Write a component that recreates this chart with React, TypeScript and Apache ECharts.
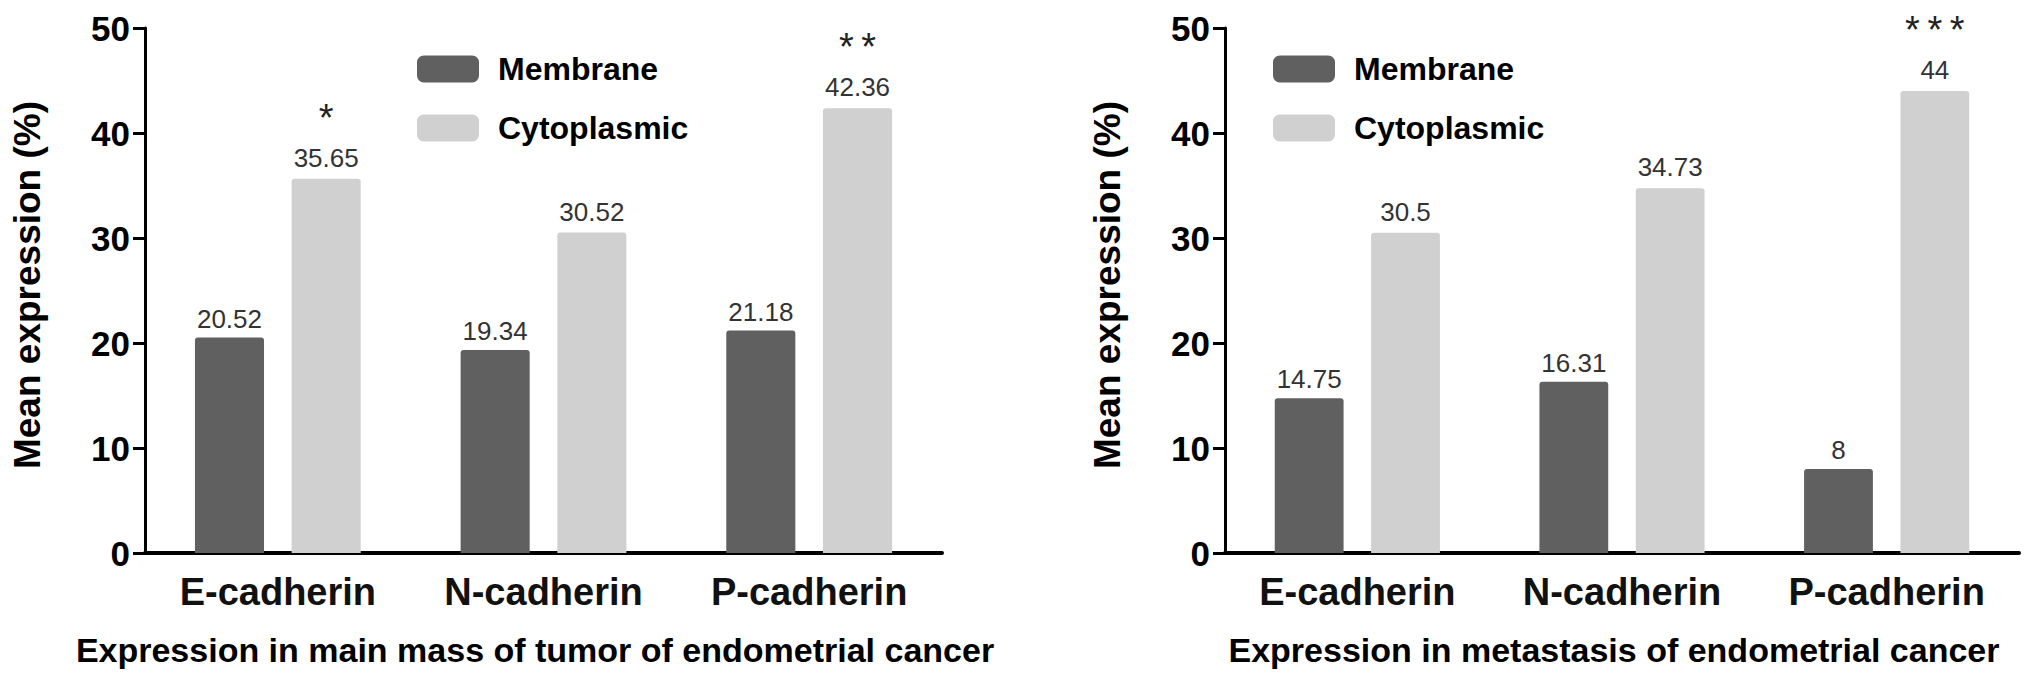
import { useEffect, useRef } from "react"
import * as echarts from "echarts"

const categories = ["E-cadherin", "N-cadherin", "P-cadherin"]
const seriesNames = ["Membrane", "Cytoplasmic"]

// main mass of tumor
const mainMembrane = [20.52, 19.34, 21.18]
const mainCytoplasmic = [35.65, 30.52, 42.36]
const mainStars = ["*", "", "**"]

// metastasis
const metaMembrane = [14.75, 16.31, 8]
const metaCytoplasmic = [30.5, 34.73, 44]
const metaStars = ["", "", "***"]

const yMin = 0
const yMax = 50
const yStep = 10

const titles = [
  "Expression in main mass of tumor of endometrial cancer",
  "Expression in metastasis of endometrial cancer",
]
const yTitle = "Mean expression (%)"

const FONT = "'Liberation Sans', Arial, Helvetica, sans-serif"
const DARK = "#606060"
const LIGHT = "#d0d0d0"

export default function App() {
  const chartRef = useRef<HTMLDivElement>(null)

  useEffect(() => {
    if (!chartRef.current) return
    const chart = echarts.init(chartRef.current, null, { renderer: "svg" })

    const grids = [
      { left: 145, top: 28, width: 797, height: 525 },
      { left: 1225, top: 28, width: 794, height: 525 },
    ]

    const xAxis = grids.map((_, i) => ({
      type: "category",
      gridIndex: i,
      data: categories,
      axisLine: { lineStyle: { color: "#000", width: 4 } },
      axisTick: { alignWithLabel: true, length: 14, lineStyle: { color: "#000", width: 3 } },
      axisLabel: {
        fontFamily: FONT,
        fontSize: 38,
        fontWeight: "bold",
        color: "#111",
        margin: 20,
      },
    }))

    const yAxis = grids.map((_, i) => ({
      type: "value",
      gridIndex: i,
      min: yMin,
      max: yMax,
      interval: yStep,
      splitLine: { show: false },
      axisLine: { show: true, lineStyle: { color: "#000", width: 3 } },
      axisTick: { show: true, length: 12, lineStyle: { color: "#000", width: 3 } },
      axisLabel: {
        fontFamily: FONT,
        fontSize: 35,
        fontWeight: "bold",
        color: "#000",
        margin: 15,
      },
    }))

    const valueLabel = {
      show: true,
      position: "top",
      distance: 6,
      fontFamily: FONT,
      fontSize: 26,
      color: "#333",
    }

    const starLabel = (stars: string[]) => ({
      show: true,
      position: "top",
      distance: 6,
      fontFamily: FONT,
      formatter: (p: any) => {
        const s = stars[p.dataIndex]
        const v = `{v|${p.value}}`
        return s ? `{s|${s.split("").join("\u2009")}}\n${v}` : v
      },
      rich: {
        v: { fontFamily: FONT, fontSize: 26, color: "#333", lineHeight: 30 },
        s: { fontFamily: FONT, fontSize: 38, color: "#222", lineHeight: 50 },
      },
    })

    const barCommon = {
      type: "bar",
      barWidth: "26%",
      barGap: "40%",
    }

    const series = [
      {
        ...barCommon,
        name: seriesNames[0],
        xAxisIndex: 0,
        yAxisIndex: 0,
        data: mainMembrane,
        itemStyle: { color: DARK, borderRadius: [3, 3, 0, 0] },
        label: valueLabel,
      },
      {
        ...barCommon,
        name: seriesNames[1],
        xAxisIndex: 0,
        yAxisIndex: 0,
        data: mainCytoplasmic,
        itemStyle: { color: LIGHT, borderRadius: [3, 3, 0, 0] },
        label: starLabel(mainStars),
      },
      {
        ...barCommon,
        name: seriesNames[0],
        xAxisIndex: 1,
        yAxisIndex: 1,
        data: metaMembrane,
        itemStyle: { color: DARK, borderRadius: [3, 3, 0, 0] },
        label: valueLabel,
      },
      {
        ...barCommon,
        name: seriesNames[1],
        xAxisIndex: 1,
        yAxisIndex: 1,
        data: metaCytoplasmic,
        itemStyle: { color: LIGHT, borderRadius: [3, 3, 0, 0] },
        label: starLabel(metaStars),
      },
    ]

    const legendCommon = {
      orient: "vertical",
      top: 48,
      icon: "roundRect",
      itemWidth: 62,
      itemHeight: 27,
      itemGap: 27,
      selectedMode: false,
      data: seriesNames,
      textStyle: {
        fontFamily: FONT,
        fontSize: 32,
        fontWeight: "bold",
        color: "#000",
        padding: [0, 0, 0, 14],
      },
    }

    const textEl = (text: string, x: number, y: number, size: number, rotation = 0) => ({
      type: "text",
      x,
      y,
      rotation,
      style: {
        text,
        fontFamily: FONT,
        fontSize: size,
        fontWeight: "bold",
        fill: "#000",
        align: "center",
        verticalAlign: "middle",
      },
    })

    chart.setOption({
      animation: false,
      backgroundColor: "#fff",
      grid: grids,
      xAxis,
      yAxis,
      legend: [
        { ...legendCommon, left: 412 },
        { ...legendCommon, left: 1268 },
      ],
      graphic: [
        textEl(yTitle, 27, 285, 37, Math.PI / 2),
        textEl(yTitle, 1107, 285, 37, Math.PI / 2),
        textEl(titles[0], 535, 650, 34),
        textEl(titles[1], 1614, 650, 34),
      ],
      series,
    })

    return () => {
      chart.dispose()
    }
  }, [])

  return (
    <div
      ref={chartRef}
      style={{ position: "fixed", left: 0, top: 0, width: 2031, height: 684, background: "#fff" }}
    />
  )
}
